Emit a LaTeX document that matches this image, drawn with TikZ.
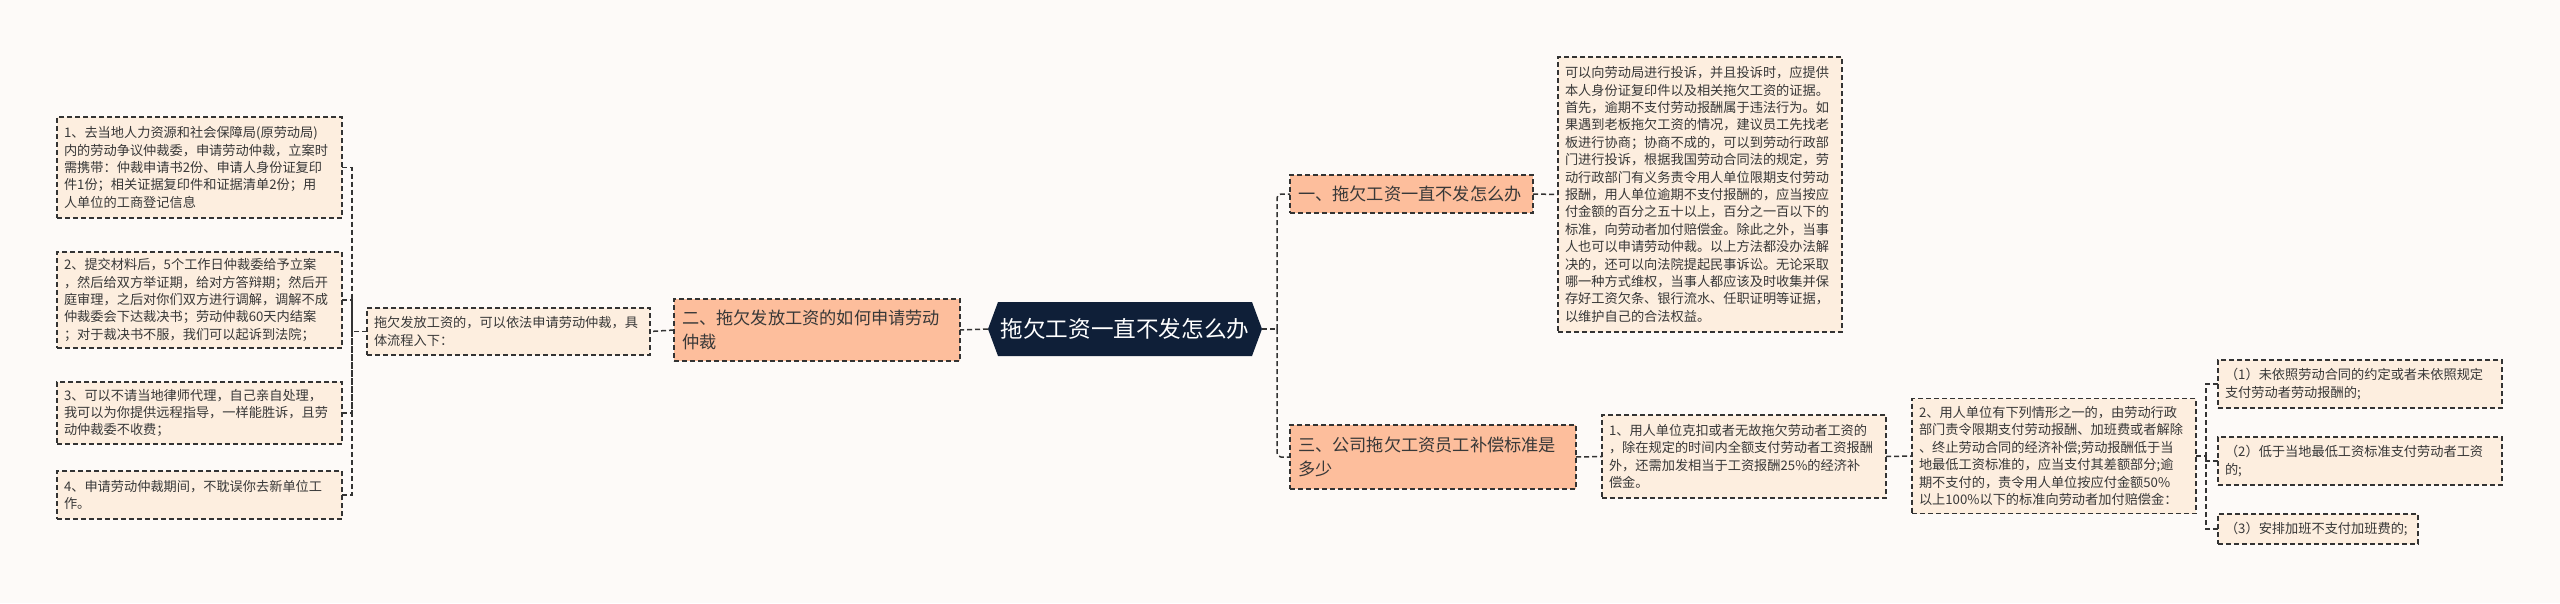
\documentclass[tikz,border=0pt]{standalone}
\usepackage{fontspec}
\setmainfont{Noto Sans CJK SC}
\usetikzlibrary{backgrounds}
\definecolor{bgc}{HTML}{FDFAF8}
\definecolor{leaffill}{HTML}{FDEEDF}
\definecolor{lonefill}{HTML}{FDBE9C}
\definecolor{rootfill}{HTML}{0F1F38}
\definecolor{linec}{HTML}{333333}
\definecolor{txt}{HTML}{383838}
\begin{document}
\begin{tikzpicture}[x=1pt,y=-1pt,
  conn/.style={draw=linec, line width=1.5pt, dash pattern=on 5pt off 3pt},
  leaf/.style={draw=linec, line width=1.5pt, dash pattern=on 5pt off 3pt, fill=leaffill, text=txt,
    align=left, inner xsep=7pt, inner ysep=2pt, outer sep=0pt, anchor=west,
    font=\fontsize{13.2}{17.4}\selectfont},
  lvl/.style={leaf, fill=lonefill, inner xsep=8pt, font=\fontsize{17.2}{24}\selectfont},
  rootnode/.style={text=white, outer sep=0pt, inner sep=0pt, minimum width=274pt, minimum height=54pt,
    font=\fontsize{22.6}{27}\selectfont}
]
\useasboundingbox (0,0) rectangle (2560,603);

% left leaves
\node[leaf, text width=271pt, minimum height=101pt] (l1) at (57,167.5) {1、去当地人力资源和社会保障局(原劳动局)\\内的劳动争议仲裁委，申请劳动仲裁，立案时\\需携带：仲裁申请书2份、申请人身份证复印\\件1份；相关证据复印件和证据清单2份；用\\人单位的工商登记信息};
\node[leaf, text width=271pt, minimum height=96pt] (l2) at (57,300) {2、提交材料后，5个工作日仲裁委给予立案\\，然后给双方举证期，给对方答辩期；然后开\\庭审理，之后对你们双方进行调解，调解不成\\仲裁委会下达裁决书；劳动仲裁60天内结案\\；对于裁决书不服，我们可以起诉到法院；};
\node[leaf, text width=271pt, minimum height=62pt] (l3) at (57,413) {3、可以不请当地律师代理，自己亲自处理，\\我可以为你提供远程指导，一样能胜诉，且劳\\动仲裁委不收费；};
\node[leaf, text width=271pt, minimum height=48pt] (l4) at (57,495) {4、申请劳动仲裁期间，不耽误你去新单位工\\作。};

\node[leaf, text width=269pt, minimum height=47pt] (mid) at (367,331.5) {拖欠发放工资的，可以依法申请劳动仲裁，具\\体流程入下：};

\node[lvl, text width=270pt, minimum height=62pt] (b2) at (674,330) {二、拖欠发放工资的如何申请劳动\\仲裁};

\node[rootnode] (root) at (1125,329) {拖欠工资一直不发怎么办};

\node[lvl, text width=227pt, minimum height=38pt] (b1) at (1290,194) {一、拖欠工资一直不发怎么办};
\node[lvl, text width=270pt, minimum height=64pt] (b3) at (1290,457) {三、公司拖欠工资员工补偿标准是\\多少};

\node[leaf, text width=270pt, minimum height=275pt] (t1) at (1558,194.5) {可以向劳动局进行投诉，并且投诉时，应提供\\本人身份证复印件以及相关拖欠工资的证据。\\首先，逾期不支付劳动报酬属于违法行为。如\\果遇到老板拖欠工资的情况，建议员工先找老\\板进行协商；协商不成的，可以到劳动行政部\\门进行投诉，根据我国劳动合同法的规定，劳\\动行政部门有义务责令用人单位限期支付劳动\\报酬，用人单位逾期不支付报酬的，应当按应\\付金额的百分之五十以上，百分之一百以下的\\标准，向劳动者加付赔偿金。除此之外，当事\\人也可以申请劳动仲裁。以上方法都没办法解\\决的，还可以向法院提起民事诉讼。无论采取\\哪一种方式维权，当事人都应该及时收集并保\\存好工资欠条、银行流水、任职证明等证据，\\以维护自己的合法权益。};

\node[leaf, text width=270pt, minimum height=83pt] (c1) at (1602,456.5) {1、用人单位克扣或者无故拖欠劳动者工资的\\，除在规定的时间内全额支付劳动者工资报酬\\外，还需加发相当于工资报酬25\%的经济补\\偿金。};
\node[leaf, text width=270pt, minimum height=115pt] (c2) at (1912,456) {2、用人单位有下列情形之一的，由劳动行政\\部门责令限期支付劳动报酬、加班费或者解除\\、终止劳动合同的经济补偿;劳动报酬低于当\\地最低工资标准的，应当支付其差额部分;逾\\期不支付的，责令用人单位按应付金额50\%\\以上100\%以下的标准向劳动者加付赔偿金：};

\node[leaf, text width=270pt, minimum height=48pt] (s1) at (2218,384) {（1）未依照劳动合同的约定或者未依照规定\\支付劳动者劳动报酬的;};
\node[leaf, text width=270pt, minimum height=48pt] (s2) at (2218,461) {（2）低于当地最低工资标准支付劳动者工资\\的;};
\node[leaf, text width=186pt, minimum height=30pt] (s3) at (2218,529) {（3）安排加班不支付加班费的;};

% junctions
\coordinate (lj) at (352,331.5);
\coordinate (rj) at (1277,329);
\coordinate (sj) at (2206,456);

% connectors
\draw[conn] (mid.west) -- (lj);
\draw[conn] (l1.east) -| (lj);
\draw[conn] (l2.east) -| (lj);
\draw[conn] (l3.east) -| (lj);
\draw[conn] (l4.east) -| (lj);
\draw[conn] (b2.west) -- (mid.east);
\draw[conn] (root.west) -- (b2.east);
\draw[conn] (root.east) -- (rj);
\draw[conn, rounded corners=4pt] (rj) |- (b1.west);
\draw[conn, rounded corners=4pt] (rj) |- (b3.west);
\draw[conn] (b1.east) -- (t1.west);
\draw[conn] (b3.east) -- (c1.west);
\draw[conn] (c1.east) -- (c2.west);
\draw[conn] (c2.east) -- (sj);
\draw[conn] (s1.west) -| (sj);
\draw[conn] (s2.west) -| (sj);
\draw[conn] (s3.west) -| (sj);

\begin{scope}[on background layer]
\fill[bgc] (0,0) rectangle (2560,603);
\fill[rootfill] (root.west) -- ([xshift=10pt]root.north west) -- ([xshift=-10pt]root.north east) -- (root.east) -- ([xshift=-10pt]root.south east) -- ([xshift=10pt]root.south west) -- cycle;
\end{scope}
\end{tikzpicture}
\end{document}
